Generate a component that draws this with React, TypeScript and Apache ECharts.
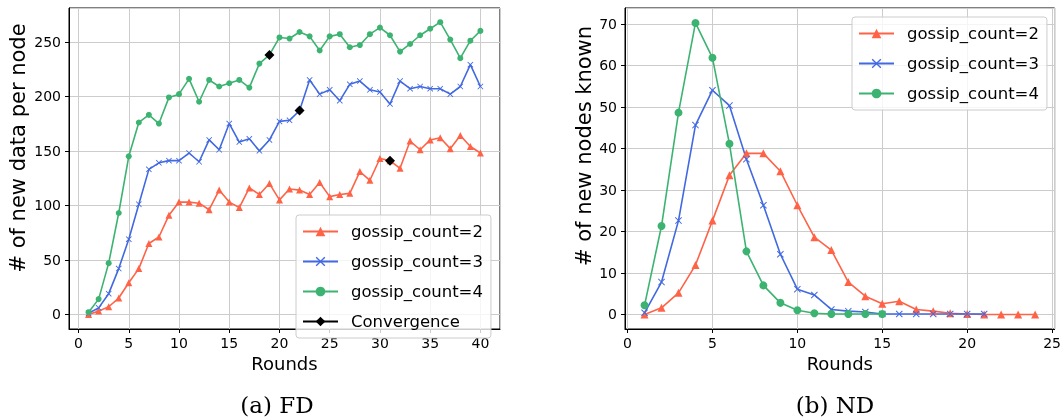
import React, { useEffect, useRef } from "react";
import * as echarts from "echarts";

// Rounds on the x axis of each panel
const roundsFD = [1, 2, 3, 4, 5, 6, 7, 8, 9, 10, 11, 12, 13, 14, 15, 16, 17, 18, 19, 20, 21, 22, 23, 24, 25, 26, 27, 28, 29, 30, 31, 32, 33, 34, 35, 36, 37, 38, 39, 40];
const roundsND = [1, 2, 3, 4, 5, 6, 7, 8, 9, 10, 11, 12, 13, 14, 15, 16, 17, 18, 19, 20, 21, 22, 23, 24];

// (a) FD: new data per node
const fdGossip2 = [0, 3, 7, 15, 29, 42, 65, 71, 91, 103, 103, 102, 96, 114, 103, 98, 116, 110, 120, 105, 115, 114, 110, 121, 108, 110, 111, 131, 123, 143, 141, 134, 159, 151, 160, 162, 152, 164, 154, 148];
const fdGossip3 = [1, 6, 19, 42, 69, 101, 133, 139, 141, 141, 148, 140, 160, 151, 175, 158, 161, 150, 160, 177, 178, 187, 215, 202, 206, 196, 211, 214, 206, 204, 193, 214, 207, 209, 207, 207, 202, 209, 229, 209];
const fdGossip4 = [2, 14, 47, 93, 145, 176, 183, 175, 199, 202, 216, 195, 215, 209, 212, 215, 208, 230, 238, 254, 253, 259, 255, 242, 255, 257, 245, 247, 257, 263, 256, 241, 248, 256, 262, 268, 252, 235, 251, 260];
const convergenceRounds = [19, 22, 31];
const convergenceValues = [238, 187, 141];

// (b) ND: new nodes known
const ndGossip2 = [0, 1.6, 5.2, 11.9, 22.6, 33.5, 38.8, 38.8, 34.5, 26.3, 18.6, 15.5, 7.8, 4.4, 2.6, 3.2, 1.2, 0.8, 0.3, 0.1, 0, 0, 0, 0];
const ndGossip3 = [0.4, 7.8, 22.6, 45.6, 54.0, 50.3, 37.4, 26.3, 14.5, 6.1, 4.7, 1.2, 0.8, 0.6, 0.1, 0.1, 0.1, 0.1, 0.1, 0.1, 0.1];
const ndGossip4 = [2.2, 21.3, 48.6, 70.2, 61.8, 41.1, 15.2, 7.0, 2.8, 1.0, 0.3, 0.1, 0.1, 0.1, 0.1];

const seriesNames = ["gossip_count=2", "gossip_count=3", "gossip_count=4", "Convergence"];
const captions = ["(a) FD", "(b) ND"];
const xAxisTitle = "Rounds";
const yAxisTitles = ["# of new data per node", "# of new nodes known"];

const RED = "#ff6347";
const BLUE = "#4169e1";
const GREEN = "#3cb371";
const CROSS = "path://M0,1 L1,0 L5,4 L9,0 L10,1 L6,5 L10,9 L9,10 L5,6 L1,10 L0,9 L4,5 Z";
const SANS = "DejaVu Sans";

const pairs = (xs: number[], ys: number[]) => ys.map((y, i) => [xs[i], y]);

// isolated points: break the line between consecutive markers
const isolated = (xs: number[], ys: number[]) => {
  const out: any[] = [];
  xs.forEach((x, i) => {
    out.push([x, ys[i]]);
    if (i < xs.length - 1) out.push([x + 0.5, "-"]);
  });
  return out;
};

const lineSeries = (name: string, color: string, symbol: string, size: number, data: any[], xi: number) => ({
  type: "line",
  name,
  xAxisIndex: xi,
  yAxisIndex: xi,
  data,
  symbol,
  symbolSize: size,
  showAllSymbol: true,
  lineStyle: { color, width: 1.6 },
  itemStyle: { color, borderColor: color, borderWidth: 0 },
  z: 3,
});

// labels only on whole multiples of the step; padded edge ticks stay blank
const stepLabel = (step: number) => (v: number) => {
  const r = v / step;
  return Math.abs(r - Math.round(r)) < 1e-6 ? String(Math.round(r) * step) : "";
};

export default function App() {
  const ref = useRef<HTMLDivElement>(null);

  useEffect(() => {
    if (!ref.current) return;
    const chart = echarts.init(ref.current, undefined, { renderer: "svg" });

    const xAxisBase = (gi: number, min: number, max: number, splitNumber: number) => ({
      type: "value",
      gridIndex: gi,
      min,
      max,
      splitNumber,
      name: xAxisTitle,
      nameLocation: "middle",
      nameGap: 25,
      nameTextStyle: { fontFamily: SANS, fontSize: 18, color: "#000" },
      axisLine: { show: true, onZero: false, lineStyle: { color: "#000", width: 1 } },
      axisTick: { show: true, length: 4, lineStyle: { color: "#000" } },
      axisLabel: {
        fontFamily: SANS,
        fontSize: 14,
        color: "#000",
        margin: 7,
        showMinLabel: false,
        showMaxLabel: false,
        formatter: stepLabel(5),
      },
      splitLine: { show: true, lineStyle: { color: "#cccccc", width: 1 } },
    });

    const yAxisBase = (gi: number, min: number, max: number, splitNumber: number, step: number) => ({
      type: "value",
      gridIndex: gi,
      min,
      max,
      splitNumber,
      axisLine: { show: true, onZero: false, lineStyle: { color: "#000", width: 1 } },
      axisTick: { show: true, length: 4, lineStyle: { color: "#000" } },
      axisLabel: {
        fontFamily: SANS,
        fontSize: 14,
        color: "#000",
        margin: 8,
        showMinLabel: false,
        showMaxLabel: false,
        formatter: stepLabel(step),
      },
      splitLine: { show: true, lineStyle: { color: "#cccccc", width: 1 } },
    });

    const legendBase = {
      orient: "vertical",
      itemWidth: 35,
      itemHeight: 12,
      itemGap: 13,
      borderColor: "#cccccc",
      borderWidth: 1,
      borderRadius: 3,
      backgroundColor: "rgba(255,255,255,0.8)",
      textStyle: { fontFamily: SANS, fontSize: 16.5, color: "#000", padding: [0, 0, 0, 8] },
    };

    chart.setOption({
      animation: false,
      grid: [
        { left: 69, top: 8, width: 431, height: 321, show: true, borderColor: "#000", borderWidth: 1 },
        { left: 625, top: 8, width: 431, height: 321, show: true, borderColor: "#000", borderWidth: 1 },
      ],
      xAxis: [xAxisBase(0, -0.95, 41.95, 8), xAxisBase(1, -0.15, 25.15, 5)],
      yAxis: [yAxisBase(0, -13.4, 281, 6, 50), yAxisBase(1, -3.5, 73.8, 8, 10)],
      legend: [
        {
          ...legendBase,
          left: 296,
          top: 215,
          padding: [8, 8, 8, 6],
          data: seriesNames.map((n) => ({ name: n })),
        },
        {
          ...legendBase,
          left: 852,
          top: 17,
          padding: [8, 8, 8, 6],
          data: seriesNames.slice(0, 3).map((n) => ({ name: n })),
        },
      ],
      graphic: [
        {
          type: "text",
          x: 18,
          y: 148,
          rotation: Math.PI / 2,
          style: { text: yAxisTitles[0], fontFamily: SANS, fontSize: 21, fill: "#000", align: "center", verticalAlign: "middle" },
        },
        {
          type: "text",
          x: 584,
          y: 146,
          rotation: Math.PI / 2,
          style: { text: yAxisTitles[1], fontFamily: SANS, fontSize: 21, fill: "#000", align: "center", verticalAlign: "middle" },
        },
        {
          type: "text",
          x: 277,
          y: 405,
          style: { text: captions[0], fontFamily: "DejaVu Serif", fontSize: 23, fill: "#000", align: "center", verticalAlign: "middle" },
        },
        {
          type: "text",
          x: 835,
          y: 405,
          style: { text: captions[1], fontFamily: "DejaVu Serif", fontSize: 23, fill: "#000", align: "center", verticalAlign: "middle" },
        },
      ],
      series: [
        lineSeries(seriesNames[0], RED, "triangle", 7, pairs(roundsFD, fdGossip2), 0),
        lineSeries(seriesNames[1], BLUE, CROSS, 6, pairs(roundsFD, fdGossip3), 0),
        lineSeries(seriesNames[2], GREEN, "circle", 6, pairs(roundsFD, fdGossip4), 0),
        { ...lineSeries(seriesNames[3], "#000", "diamond", 10, isolated(convergenceRounds, convergenceValues), 0), z: 5 },
        lineSeries(seriesNames[0], RED, "triangle", 8, pairs(roundsND, ndGossip2), 1),
        lineSeries(seriesNames[1], BLUE, CROSS, 7, pairs(roundsND, ndGossip3), 1),
        lineSeries(seriesNames[2], GREEN, "circle", 8, pairs(roundsND, ndGossip4), 1),
      ],
    });

    return () => chart.dispose();
  }, []);

  return <div ref={ref} style={{ position: "fixed", left: 0, top: 0, width: 1064, height: 419 }} />;
}
